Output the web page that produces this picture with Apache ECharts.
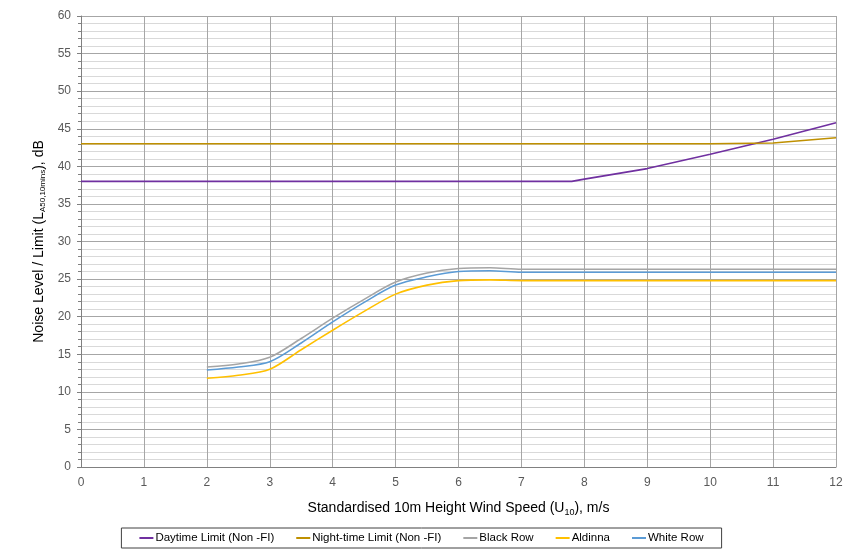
<!DOCTYPE html>
<html><head><meta charset="utf-8">
<script src="https://cdn.jsdelivr.net/npm/echarts@6/dist/echarts.min.js"></script>
<style>html,body{margin:0;padding:0;background:#fff}#c{width:843px;height:551px}</style>
</head><body><div id="c"></div>
<script>
const seriesNames = ['Daytime Limit (Non -FI)', 'Night-time Limit (Non -FI)', 'Black Row', 'Aldinna', 'White Row'];
const daytime = [[0,38],[1,38],[2,38],[3,38],[4,38],[5,38],[6,38],[7,38],[7.8,38],[8,38.3],[9,39.7],[10,41.6],[11,43.6],[12,45.8]];
const nighttime = [[0,43],[1,43],[2,43],[3,43],[4,43],[5,43],[6,43],[7,43],[8,43],[9,43],[10,43],[11,43.1],[12,43.8]];
const blackRow = [[2,13.3],[2.5,13.7],[3,14.6],[3.5,17.1],[4,19.8],[4.5,22.3],[5,24.6],[5.5,25.8],[6,26.4],[6.5,26.5],[7,26.3],[8,26.3],[9,26.3],[10,26.3],[11,26.3],[12,26.3]];
const aldinna = [[2,11.8],[2.5,12.2],[3,13.0],[3.5,15.6],[4,18.2],[4.5,20.7],[5,23.0],[5.5,24.2],[6,24.8],[6.5,24.9],[7,24.8],[8,24.8],[9,24.8],[10,24.8],[11,24.8],[12,24.8]];
const whiteRow = [[2,12.9],[2.5,13.3],[3,14.0],[3.5,16.5],[4,19.3],[4.5,21.9],[5,24.2],[5.5,25.3],[6,26.0],[6.5,26.1],[7,25.9],[8,25.9],[9,25.9],[10,25.9],[11,25.9],[12,25.9]];
const colors = ['#7030A0', '#BF9000', '#A5A5A5', '#FFC000', '#5B9BD5'];

const chart = echarts.init(document.getElementById('c'));
const font = 'Liberation Sans, Arial, sans-serif';
function mk(name, data, color, smooth) {
  return { name, type: 'line', data, smooth: smooth ? 0.3 : false, showSymbol: false, symbol: 'none',
    lineStyle: { color, width: 1.6 }, itemStyle: { color } };
}
chart.setOption({
  animation: false,
  color: colors,
  textStyle: { fontFamily: font },
  grid: { left: 81, right: 7, top: 16, bottom: 84, outerBoundsMode: 'none', containLabel: false },
  legend: {
    bottom: 3, left: 'center', data: seriesNames, icon: 'rect', itemWidth: 14, itemHeight: 2, itemGap: 22,
    borderColor: '#404040', borderWidth: 1, padding: [4, 18, 4, 18],
    textStyle: { fontSize: 11.5, color: '#000', fontFamily: font, padding: [0, 0, 0, -3] }
  },
  xAxis: {
    type: 'value', min: 0, max: 12, interval: 1,
    name: 'Standardised 10m Height Wind Speed (U{sub|10}), m/s', nameLocation: 'middle', nameGap: 33,
    nameTextStyle: { fontSize: 14, color: '#000', fontFamily: font, rich: { sub: { fontSize: 9, verticalAlign: 'bottom', padding: [8, 0, 0, 0], color: '#000' } } },
    axisLine: { show: true, lineStyle: { color: '#808080' } },
    axisTick: { show: false },
    axisLabel: { color: '#595959', fontSize: 12, margin: 10 },
    splitLine: { show: true, lineStyle: { color: '#a6a6a6', width: 1 } }
  },
  yAxis: {
    type: 'value', min: 0, max: 60, interval: 5,
    name: 'Noise Level / Limit (L{sub|A50,10mins}), dB', nameLocation: 'middle', nameGap: 33, nameRotate: 90,
    nameTextStyle: { fontSize: 14, color: '#000', fontFamily: font, rich: { sub: { fontSize: 8, verticalAlign: 'bottom', padding: [8, 0, 0, 0], color: '#000' } } },
    axisLine: { show: true, lineStyle: { color: '#808080' } },
    axisTick: { show: true, length: 4, lineStyle: { color: '#808080' } },
    minorTick: { show: true, splitNumber: 5, length: 3, lineStyle: { color: '#808080' } },
    axisLabel: { color: '#595959', fontSize: 12, margin: 10 },
    splitLine: { show: true, lineStyle: { color: '#a6a6a6', width: 1 } },
    minorSplitLine: { show: true, lineStyle: { color: '#d9d9d9', width: 1 } }
  },
  series: [
    mk(seriesNames[0], daytime, colors[0], false),
    mk(seriesNames[1], nighttime, colors[1], false),
    mk(seriesNames[2], blackRow, colors[2], true),
    mk(seriesNames[3], aldinna, colors[3], true),
    mk(seriesNames[4], whiteRow, colors[4], true)
  ]
});
</script></body></html>
